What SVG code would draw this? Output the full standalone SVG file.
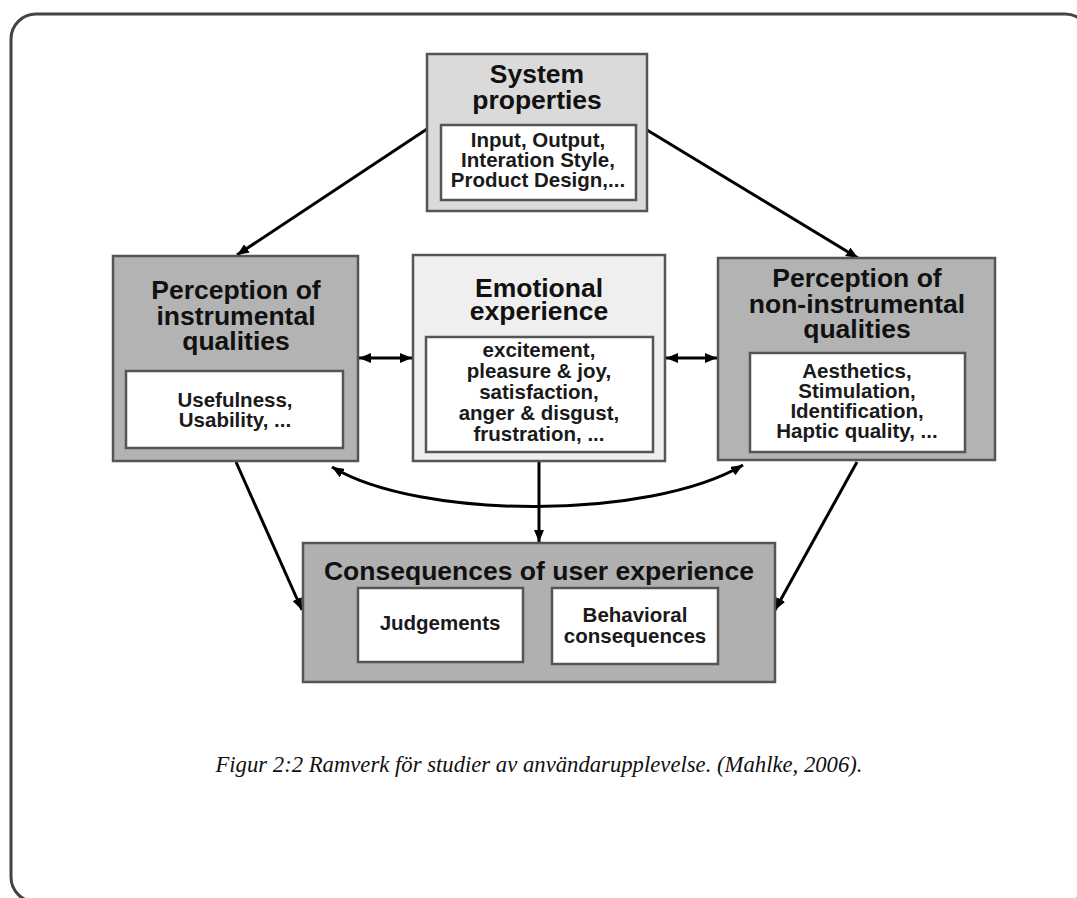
<svg xmlns="http://www.w3.org/2000/svg" width="1077" height="898" viewBox="0 0 1077 898">
<defs>
<marker id="ah" viewBox="0 0 12 10" refX="12" refY="5" markerWidth="12" markerHeight="10" markerUnits="userSpaceOnUse" orient="auto-start-reverse">
<path d="M0,0 L12,5 L0,10 z" fill="#000"/>
</marker>
<style>
.box{stroke:#555;stroke-width:2.5}
.inner{fill:#fff;stroke:#555;stroke-width:2.5}
.t{font-family:"Liberation Sans",Arial,sans-serif;font-weight:bold;font-size:26.5px;fill:#111;text-anchor:middle}
.s{font-size:20.5px;fill:#1a1a1a}
.conn{stroke:#000;stroke-width:3;fill:none}
.cap{font-family:"Liberation Serif","Times New Roman",serif;font-style:italic;font-size:22.7px;fill:#111;text-anchor:middle}
</style>
</defs>
<rect x="11" y="14" width="1079" height="888" rx="25" ry="25" fill="#fff" stroke="#444" stroke-width="3"/>

<g id="connectors">
<line class="conn" x1="427" y1="129" x2="237" y2="255" marker-end="url(#ah)"/>
<line class="conn" x1="647" y1="130" x2="858" y2="258" marker-end="url(#ah)"/>
<line class="conn" x1="359" y1="358" x2="412" y2="358" marker-start="url(#ah)" marker-end="url(#ah)"/>
<line class="conn" x1="666" y1="358" x2="717" y2="358" marker-start="url(#ah)" marker-end="url(#ah)"/>
<path class="conn" d="M332,467 C420,520 650,520 743,465" marker-start="url(#ah)" marker-end="url(#ah)"/>
<line class="conn" x1="539" y1="462" x2="539" y2="542" marker-end="url(#ah)"/>
<line class="conn" x1="236" y1="462" x2="302" y2="610" marker-end="url(#ah)"/>
<line class="conn" x1="857" y1="462" x2="775" y2="610" marker-end="url(#ah)"/>
</g>

<g id="system-properties">
<rect class="box" x="427" y="54" width="220" height="157" fill="#dadada"/>
<rect class="inner" x="441" y="125" width="195" height="75"/>
<text class="t" x="537" y="83">System</text>
<text class="t" x="537" y="109">properties</text>
<text class="t s" x="538" y="147">Input, Output,</text>
<text class="t s" x="538" y="167">Interation Style,</text>
<text class="t s" x="538" y="187">Product Design,...</text>
</g>

<g id="perception-instrumental">
<rect class="box" x="113" y="256" width="245" height="205" fill="#b3b3b3"/>
<rect class="inner" x="126" y="371" width="217" height="77"/>
<text class="t" x="236" y="299">Perception of</text>
<text class="t" x="236" y="325">instrumental</text>
<text class="t" x="236" y="350">qualities</text>
<text class="t s" x="235" y="407">Usefulness,</text>
<text class="t s" x="235" y="427">Usability, ...</text>
</g>

<g id="emotional-experience">
<rect class="box" x="413" y="255" width="252" height="206" fill="#efefef"/>
<rect class="inner" x="426" y="337" width="227" height="115"/>
<text class="t" x="539" y="297">Emotional</text>
<text class="t" x="539" y="320">experience</text>
<text class="t s" x="539" y="357">excitement,</text>
<text class="t s" x="539" y="378">pleasure &amp; joy,</text>
<text class="t s" x="539" y="399">satisfaction,</text>
<text class="t s" x="539" y="420">anger &amp; disgust,</text>
<text class="t s" x="539" y="441">frustration, ...</text>
</g>

<g id="perception-non-instrumental">
<rect class="box" x="718" y="258" width="277" height="202" fill="#b3b3b3"/>
<rect class="inner" x="750" y="353" width="215" height="99"/>
<text class="t" x="857" y="287">Perception of</text>
<text class="t" x="857" y="313">non-instrumental</text>
<text class="t" x="857" y="338">qualities</text>
<text class="t s" x="857" y="378">Aesthetics,</text>
<text class="t s" x="857" y="398">Stimulation,</text>
<text class="t s" x="857" y="418">Identification,</text>
<text class="t s" x="857" y="438">Haptic quality, ...</text>
</g>

<g id="consequences">
<rect class="box" x="303" y="543" width="472" height="139" fill="#b0b0b0"/>
<rect class="inner" x="358" y="588" width="165" height="74"/>
<rect class="inner" x="552" y="588" width="166" height="76"/>
<text class="t" x="539" y="580">Consequences of user experience</text>
<text class="t s" x="440" y="630">Judgements</text>
<text class="t s" x="635" y="622">Behavioral</text>
<text class="t s" x="635" y="643">consequences</text>
</g>

<text class="cap" x="539" y="772">Figur 2:2 Ramverk för studier av användarupplevelse. (Mahlke, 2006).</text>
</svg>
